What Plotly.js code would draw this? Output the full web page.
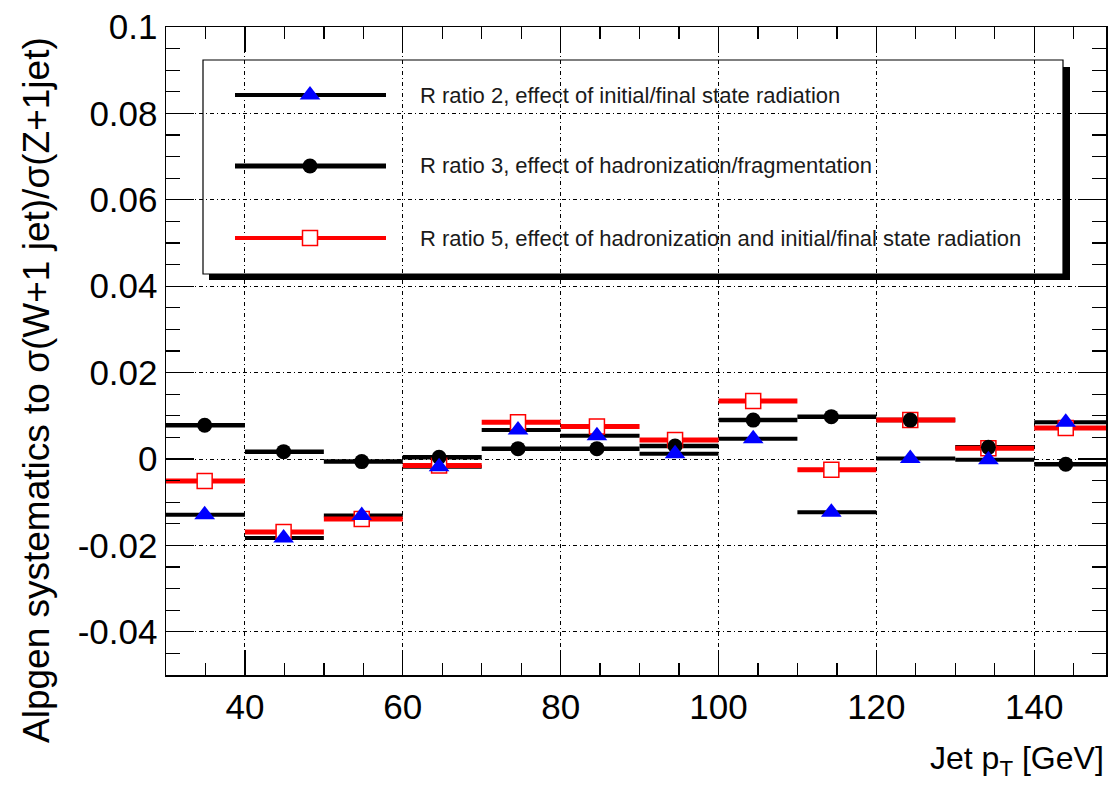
<!DOCTYPE html>
<html>
<head>
<meta charset="utf-8">
<script src="https://cdn.plot.ly/plotly-3.0.1.min.js"></script>
<style>html,body{margin:0;padding:0;background:#fff;}#chart{width:1114px;height:795px;}</style>
</head>
<body>
<div id="chart"></div>
<script>
// ---- data ----
var binLow  = [30, 40, 50, 60, 70, 80, 90, 100, 110, 120, 130, 140];
var binHigh = [40, 50, 60, 70, 80, 90, 100, 110, 120, 130, 140, 150];
var binMean = [34.9, 44.9, 54.8, 64.6, 74.6, 84.6, 94.5, 104.4, 114.3, 124.3, 134.2, 144.0];

var ratio2 = [-0.0129, -0.0183, -0.0131, -0.0018, 0.0067, 0.0054, 0.0012, 0.0047, -0.0123, 0.0001, -0.0002, 0.0085];
var ratio3 = [0.0078, 0.0017, -0.0006, 0.0004, 0.0024, 0.0024, 0.0030, 0.0090, 0.0098, 0.0090, 0.0027, -0.0012];
var ratio5 = [-0.0051, -0.0169, -0.0139, -0.0015, 0.0085, 0.0075, 0.0044, 0.0134, -0.0025, 0.0090, 0.0025, 0.0072];

var legendLabels = [
  "R ratio 2, effect of initial/final state radiation",
  "R ratio 3, effect of hadronization/fragmentation",
  "R ratio 5, effect of hadronization and initial/final state radiation"
];
var yTickVals = [-0.04, -0.02, 0, 0.02, 0.04, 0.06, 0.08, 0.1];
var yTickText = ["-0.04", "-0.02", "0", "0.02", "0.04", "0.06", "0.08", "0.1"];
var xTitle = "Jet p<sub>T</sub> [GeV]";
var yTitle = "Alpgen systematics to σ(W+1 jet)/σ(Z+1jet)";

// ---- layout geometry (pixels of the plot frame) ----
var L = 166, R = 1106, T = 27, B = 675;
function px(x){ return (x - L) / (R - L); }
function py(y){ return (B - y) / (B - T); }

var FONT = "Liberation Sans, Arial, Helvetica, sans-serif";

var errPlus = binHigh.map(function(h,i){ return h - binMean[i]; });
var errMinus = binMean.map(function(m,i){ return m - binLow[i]; });

function lineTrace(vals, color, thick){
  return {
    x: binMean, y: vals, type: 'scatter', mode: 'markers',
    marker: {size: 2, color: 'rgba(0,0,0,0)'},
    error_x: {type: 'data', symmetric: false, array: errPlus, arrayminus: errMinus,
              width: 0, thickness: thick, color: color},
    hoverinfo: 'skip', showlegend: false, cliponaxis: true
  };
}
function markerTrace(vals, marker){
  return {x: binMean, y: vals, type: 'scatter', mode: 'markers', marker: marker,
          showlegend: false, cliponaxis: true};
}

var triMarker = {symbol: 'triangle-up', size: 18, color: '#0000ff', line: {width: 0}};
var circMarker = {symbol: 'circle', size: 15, color: '#000000', line: {width: 0}};
var sqMarker = {symbol: 'square', size: 15, color: '#ffffff', line: {width: 1.5, color: '#ff0000'}};

var traces = [
  lineTrace(ratio2, '#000000', 4),
  lineTrace(ratio3, '#000000', 4.5),
  lineTrace(ratio5, '#ff0000', 5),
  markerTrace(ratio5, sqMarker),
  markerTrace(ratio3, circMarker),
  markerTrace(ratio2, triMarker)
];

// ---- legend glyphs on an overlay axis that spans the plot frame ----
var legY = [py(95), py(166), py(238)];
var legX0 = px(235), legX1 = px(386), legXm = px(310);
var legStyles = [
  {c: '#000000', w: 4, m: triMarker},
  {c: '#000000', w: 5, m: circMarker},
  {c: '#ff0000', w: 4, m: sqMarker}
];
legStyles.forEach(function(s, i){
  traces.push({x: [legX0, legX1], y: [legY[i], legY[i]], xaxis: 'x2', yaxis: 'y2',
               type: 'scatter', mode: 'lines', line: {color: s.c, width: s.w},
               showlegend: false, hoverinfo: 'skip'});
  traces.push({x: [legXm], y: [legY[i]], xaxis: 'x2', yaxis: 'y2',
               type: 'scatter', mode: 'markers', marker: s.m,
               showlegend: false, hoverinfo: 'skip'});
});

var shapes = [
  {type: 'rect', xref: 'paper', yref: 'paper', layer: 'between',
   x0: px(209), x1: px(1070), y0: py(280), y1: py(67),
   fillcolor: '#000000', line: {width: 0}},
  {type: 'rect', xref: 'paper', yref: 'paper', layer: 'between',
   x0: px(203), x1: px(1063), y0: py(274), y1: py(60),
   fillcolor: '#ffffff', line: {width: 1.2, color: '#000000'}}
];

var annotations = legendLabels.map(function(t, i){
  return {text: t, xref: 'paper', yref: 'paper', x: px(418), y: legY[i],
          xanchor: 'left', yanchor: 'middle', showarrow: false,
          font: {family: FONT, size: 22, color: '#1a1a1a'}};
});
annotations.push({text: yTitle, xref: 'paper', yref: 'paper', x: px(37), y: py(390),
  xanchor: 'center', yanchor: 'middle', textangle: -90, showarrow: false,
  font: {family: FONT, size: 37, color: '#000000'}});
annotations.push({text: xTitle, xref: 'paper', yref: 'paper', x: 1, y: py(760),
  xanchor: 'right', yanchor: 'middle', showarrow: false,
  font: {family: FONT, size: 32, color: '#000000'}});

var layout = {
  width: 1114, height: 795,
  margin: {l: L, r: 1114 - R, t: T, b: 795 - B, pad: 0},
  paper_bgcolor: '#ffffff', plot_bgcolor: '#ffffff',
  showlegend: false,
  font: {family: FONT, color: '#000000'},
  xaxis: {
    range: [30, 149.1], tickmode: 'linear', tick0: 0, dtick: 20,
    ticks: 'inside', ticklen: 25, tickwidth: 1.3, tickcolor: '#000000',
    minor: {dtick: 5, tick0: 0, ticks: 'inside', ticklen: 12, tickwidth: 1.3, tickcolor: '#000000', showgrid: false},
    showline: true, linecolor: '#000000', linewidth: 1.5, mirror: 'ticks',
    showgrid: true, gridcolor: '#000000', gridwidth: 1, griddash: '4px,3px,1px,3px',
    zeroline: false, tickfont: {family: FONT, size: 35, color: '#000000'},
    fixedrange: true
  },
  yaxis: {
    range: [-0.05, 0.1], tickmode: 'array', tickvals: yTickVals, ticktext: yTickText,
    ticks: 'inside', ticklen: 28, tickwidth: 1.3, tickcolor: '#000000',
    minor: {dtick: 0.005, tick0: 0, ticks: 'inside', ticklen: 14, tickwidth: 1.3, tickcolor: '#000000', showgrid: false},
    showline: true, linecolor: '#000000', linewidth: 1.5, mirror: 'ticks',
    showgrid: true, gridcolor: '#000000', gridwidth: 1, griddash: '4px,3px,1px,3px',
    zeroline: false, tickfont: {family: FONT, size: 35, color: '#000000'},
    fixedrange: true
  },
  xaxis2: {overlaying: 'x', range: [0, 1], visible: false, fixedrange: true},
  yaxis2: {overlaying: 'y', range: [0, 1], visible: false, fixedrange: true},
  shapes: shapes,
  annotations: annotations
};

Plotly.newPlot('chart', traces, layout, {displayModeBar: false, staticPlot: true});
</script>
</body>
</html>
